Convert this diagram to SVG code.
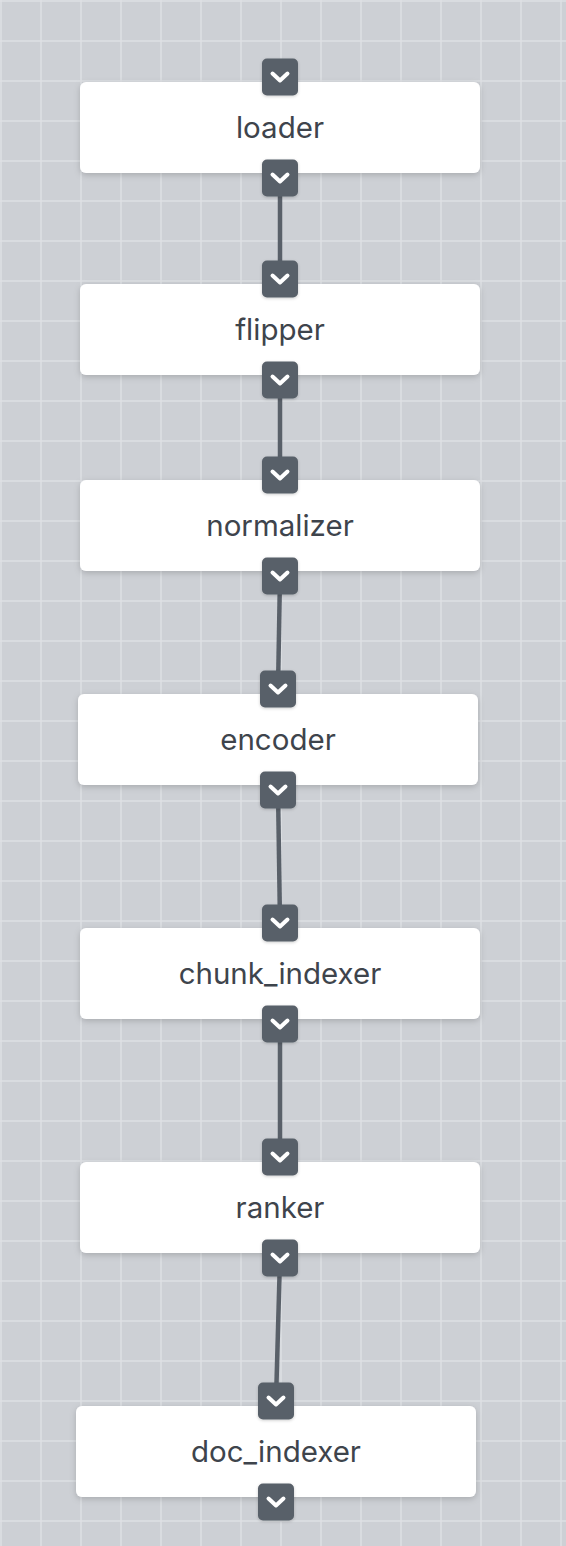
<svg xmlns="http://www.w3.org/2000/svg" width="566" height="1546" viewBox="0 0 566 1546">
  <defs>
    <pattern id="grid" x="0" y="0" width="40" height="40" patternUnits="userSpaceOnUse">
      <rect width="40" height="40" fill="#cdd0d5"/>
      <path d="M1 0 V40 M0 1 H40" stroke="#dee0e4" stroke-width="1.5" fill="none"/>
    </pattern>
    <filter id="shadow" x="-10%" y="-20%" width="120%" height="150%">
      <feDropShadow dx="0" dy="2" stdDeviation="3" flood-color="#000" flood-opacity="0.18"/>
    </filter>
    <filter id="pshadow" x="-30%" y="-30%" width="160%" height="160%">
      <feDropShadow dx="0" dy="1" stdDeviation="1.5" flood-color="#000" flood-opacity="0.2"/>
    </filter>
    <g id="port">
      <rect x="-18" y="-18.5" width="36" height="37" rx="5" fill="#596069" filter="url(#pshadow)"/>
      <path d="M-7.5 -3.5 L0 3.5 L7.5 -3.5" fill="none" stroke="#ffffff" stroke-width="4" stroke-linecap="round" stroke-linejoin="round"/>
    </g>
  </defs>
  <style>
    .node rect.box { fill: #ffffff; filter: url(#shadow); }
    .node text { font-family: Inter, "Liberation Sans", sans-serif; font-size: 29.5px; fill: #3e444c; text-anchor: middle; }
    .edges line { stroke: #596069; stroke-width: 4.5; }
  </style>
  <rect width="566" height="1546" fill="url(#grid)"/>

  <g id="edges" class="edges">
    <line x1="280" y1="178" x2="280" y2="279"/>
    <line x1="280" y1="380" x2="280" y2="475"/>
    <line x1="280" y1="576" x2="278" y2="689"/>
    <line x1="278" y1="790" x2="280" y2="923"/>
    <line x1="280" y1="1024" x2="280" y2="1157"/>
    <line x1="280" y1="1258" x2="276" y2="1401"/>
  </g>

  <g id="loader" class="node">
    <rect class="box" x="80" y="82" width="400" height="91" rx="6"/>
    <text x="280" y="138">loader</text>
    <use href="#port" x="280" y="77"/>
    <use href="#port" x="280" y="178"/>
  </g>
  <g id="flipper" class="node">
    <rect class="box" x="80" y="284" width="400" height="91" rx="6"/>
    <text x="280" y="340">flipper</text>
    <use href="#port" x="280" y="279"/>
    <use href="#port" x="280" y="380"/>
  </g>
  <g id="normalizer" class="node">
    <rect class="box" x="80" y="480" width="400" height="91" rx="6"/>
    <text x="280" y="536">normalizer</text>
    <use href="#port" x="280" y="475"/>
    <use href="#port" x="280" y="576"/>
  </g>
  <g id="encoder" class="node">
    <rect class="box" x="78" y="694" width="400" height="91" rx="6"/>
    <text x="278" y="750">encoder</text>
    <use href="#port" x="278" y="689"/>
    <use href="#port" x="278" y="790"/>
  </g>
  <g id="chunk_indexer" class="node">
    <rect class="box" x="80" y="928" width="400" height="91" rx="6"/>
    <text x="280" y="984">chunk_indexer</text>
    <use href="#port" x="280" y="923"/>
    <use href="#port" x="280" y="1024"/>
  </g>
  <g id="ranker" class="node">
    <rect class="box" x="80" y="1162" width="400" height="91" rx="6"/>
    <text x="280" y="1218">ranker</text>
    <use href="#port" x="280" y="1157"/>
    <use href="#port" x="280" y="1258"/>
  </g>
  <g id="doc_indexer" class="node">
    <rect class="box" x="76" y="1406" width="400" height="91" rx="6"/>
    <text x="276" y="1462">doc_indexer</text>
    <use href="#port" x="276" y="1401"/>
    <use href="#port" x="276" y="1502"/>
  </g>
</svg>
